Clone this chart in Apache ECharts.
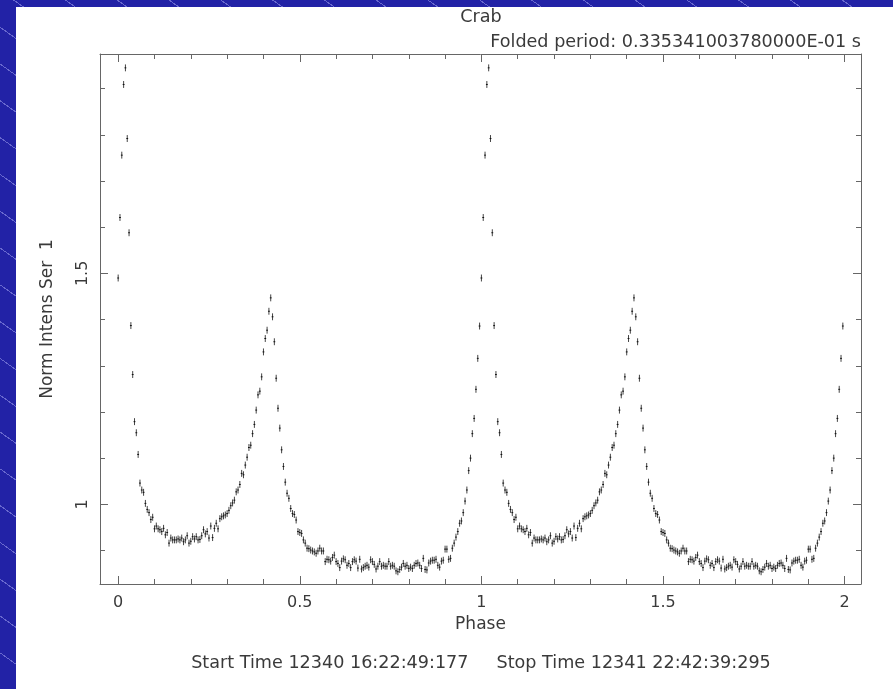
<!DOCTYPE html>
<html>
<head>
<meta charset="utf-8">
<script src="https://cdn.jsdelivr.net/npm/echarts@6/dist/echarts.min.js"></script>
<style>
  html, body { margin: 0; padding: 0; }
  body {
    width: 893px; height: 689px; overflow: hidden; position: relative;
    background-color: #2222a6;
    background-image: repeating-linear-gradient(35.4deg, rgba(0,0,0,0) 0px, rgba(0,0,0,0) 29px, rgba(190,190,255,0.45) 29px, rgba(190,190,255,0.45) 30px);
  }
  #panel { position: absolute; left: 16px; top: 7px; width: 877px; height: 682px; background: #fff; }
  #chart { position: absolute; left: 0; top: 0; width: 893px; height: 689px; }
</style>
</head>
<body>
<div id="panel"></div>
<div id="chart"></div>
<script>
// 折叠光变曲线 (每周期 200 个 bin, 画两个周期)
const binWidth = 0.005
const cycles = 2
const errHalf = 0.0075

// phase 0.000 - 0.245
const profileA = [
  1.490, 1.621, 1.756, 1.909, 1.945, 1.792, 1.588, 1.387, 1.281, 1.179,
  1.155, 1.108, 1.046, 1.031, 1.026, 1.002, 0.989, 0.982, 0.967, 0.972,
  0.947, 0.953, 0.947, 0.945, 0.941, 0.948, 0.934, 0.939, 0.916, 0.927,
  0.923, 0.923, 0.923, 0.925, 0.923, 0.927, 0.919, 0.923, 0.932, 0.916,
  0.920, 0.930, 0.925, 0.930, 0.923, 0.924, 0.932, 0.945, 0.936, 0.941
]
// phase 0.250 - 0.495
const profileB = [
  0.927, 0.953, 0.928, 0.948, 0.959, 0.947, 0.969, 0.973, 0.975, 0.977,
  0.980, 0.987, 0.997, 1.003, 1.009, 1.027, 1.031, 1.043, 1.067, 1.064,
  1.085, 1.102, 1.123, 1.128, 1.153, 1.173, 1.204, 1.237, 1.245, 1.276,
  1.330, 1.359, 1.377, 1.418, 1.447, 1.406, 1.352, 1.273, 1.208, 1.165,
  1.118, 1.082, 1.048, 1.024, 1.013, 0.991, 0.980, 0.978, 0.966, 0.941
]
// phase 0.500 - 0.745
const profileC = [
  0.939, 0.937, 0.923, 0.916, 0.905, 0.904, 0.901, 0.899, 0.897, 0.894,
  0.899, 0.905, 0.899, 0.899, 0.876, 0.881, 0.880, 0.877, 0.885, 0.890,
  0.876, 0.872, 0.863, 0.877, 0.882, 0.880, 0.868, 0.872, 0.863, 0.876,
  0.880, 0.877, 0.862, 0.881, 0.860, 0.863, 0.866, 0.868, 0.864, 0.880,
  0.876, 0.870, 0.860, 0.866, 0.876, 0.866, 0.868, 0.866, 0.866, 0.876
]
// phase 0.750 - 0.995
const profileD = [
  0.866, 0.868, 0.866, 0.856, 0.854, 0.859, 0.864, 0.872, 0.866, 0.868,
  0.861, 0.864, 0.861, 0.868, 0.872, 0.873, 0.868, 0.861, 0.883, 0.859,
  0.858, 0.873, 0.877, 0.879, 0.879, 0.881, 0.868, 0.864, 0.877, 0.879,
  0.903, 0.903, 0.881, 0.883, 0.905, 0.916, 0.929, 0.941, 0.959, 0.964,
  0.982, 1.007, 1.031, 1.073, 1.100, 1.153, 1.186, 1.249, 1.316, 1.386
]

const xMajor = [0, 0.5, 1, 1.5, 2]
const xMinor = [0.1, 0.2, 0.3, 0.4, 0.6, 0.7, 0.8, 0.9, 1.1, 1.2, 1.3, 1.4, 1.6, 1.7, 1.8, 1.9]
const yMajor = [1, 1.5]
const yMinor = [0.9, 1.1, 1.2, 1.3, 1.4, 1.6, 1.7, 1.8, 1.9]

const xRange = [-0.05, 2.045]
const yRange = [0.8275, 1.975]

const profile = profileA.concat(profileB, profileC, profileD)
let points = []
for (let c = 0; c < cycles; c++) {
  profile.forEach((v, i) => {
    points.push([c + i * binWidth, v, errHalf])
  })
}

const lineColor = '#666'
const textColor = '#3a3a3a'
const font = 'DejaVu Sans'
const textFont = '17.6px "DejaVu Sans"'

// 生成一组叠在同一边上的坐标轴 (主刻度 + 次刻度)
const makeAxes = function (dim, pos, major, minor, range, withLabel) {
  let base = {
    type: 'value', position: pos, min: range[0], max: range[1],
    splitLine: { show: false }
  }
  let a = Object.assign({}, base, {
    axisLine: { show: true, onZero: false, lineStyle: { color: lineColor, width: 1 } },
    axisTick: { show: true, inside: true, length: 8, customValues: major, lineStyle: { color: lineColor } },
    axisLabel: withLabel ? {
      show: true, customValues: major, color: textColor, fontFamily: font, fontSize: 16,
      rotate: dim === 'y' ? 90 : 0, margin: dim === 'y' ? 9 : 11,
      formatter: v => String(+v.toFixed(2))
    } : { show: false }
  })
  let b = Object.assign({}, base, {
    axisLine: { show: false, onZero: false },
    axisTick: { show: true, inside: true, length: 5, customValues: minor, lineStyle: { color: lineColor } },
    axisLabel: { show: false }
  })
  return [a, b]
}

let xAxes = makeAxes('x', 'bottom', xMajor, xMinor, xRange, true)
  .concat(makeAxes('x', 'top', xMajor, xMinor, xRange, false))
xAxes[0].name = 'Phase'
xAxes[0].nameLocation = 'middle'
xAxes[0].nameGap = 31
xAxes[0].nameTextStyle = { color: textColor, fontFamily: font, fontSize: 17 }

let yAxes = makeAxes('y', 'left', yMajor, yMinor, yRange, true)
  .concat(makeAxes('y', 'right', yMajor, yMinor, yRange, false))
yAxes[0].name = 'Norm Intens Ser  1'
yAxes[0].nameLocation = 'middle'
yAxes[0].nameGap = 44
yAxes[0].nameTextStyle = { color: textColor, fontFamily: font, fontSize: 17 }

let myChart = echarts.init(document.getElementById('chart'))
let option = {
  backgroundColor: 'transparent',
  animation: false,
  grid: { left: 100, top: 54, width: 761, height: 530 },
  xAxis: xAxes,
  yAxis: yAxes,
  graphic: [
    {
      type: 'text', x: 481, y: 17,
      style: { text: 'Crab', fill: textColor, font: textFont, align: 'center', verticalAlign: 'middle' }
    },
    {
      type: 'text', x: 861, y: 42,
      style: { text: 'Folded period: 0.335341003780000E-01 s', fill: textColor, font: textFont, align: 'right', verticalAlign: 'middle' }
    },
    {
      type: 'text', x: 481, y: 663,
      style: { text: 'Start Time 12340 16:22:49:177     Stop Time 12341 22:42:39:295', fill: textColor, font: textFont, align: 'center', verticalAlign: 'middle' }
    }
  ],
  series: [{
    type: 'custom',
    xAxisIndex: 0,
    yAxisIndex: 0,
    data: points,
    encode: { x: 0, y: 1 },
    renderItem: function (params, api) {
      let x = api.value(0)
      let y = api.value(1)
      let e = api.value(2)
      let top = api.coord([x, y + e])
      let bot = api.coord([x, y - e])
      let l = api.coord([x - binWidth / 2, y])
      let r = api.coord([x + binWidth / 2, y])
      return {
        type: 'group',
        children: [
          { type: 'line', shape: { x1: top[0], y1: top[1], x2: bot[0], y2: bot[1] }, style: { stroke: '#444', lineWidth: 1 } },
          { type: 'line', shape: { x1: l[0], y1: l[1], x2: r[0], y2: r[1] }, style: { stroke: '#111', lineWidth: 1 } }
        ]
      }
    }
  }]
}
myChart.setOption(option)
</script>
</body>
</html>
